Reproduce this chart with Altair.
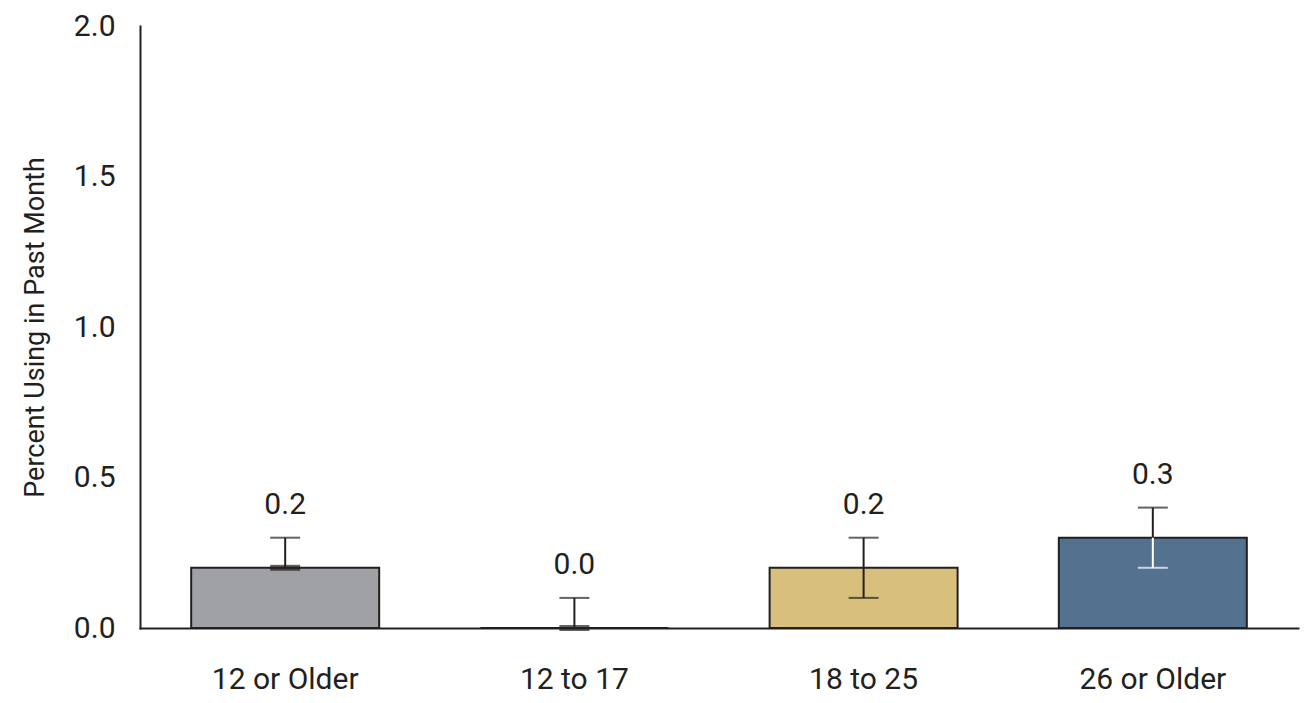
import altair as alt
import pandas as pd

categories = ["12 or Older", "12 to 17", "18 to 25", "26 or Older"]
values = [0.2, 0.0, 0.2, 0.3]
lower = [0.2, 0.0, 0.1, 0.2]
upper = [0.3, 0.1, 0.3, 0.4]
labels = ["0.2", "0.0", "0.2", "0.3"]
bar_colors = ["#a0a1a5", "#a0a1a5", "#d8bf7b", "#52728f"]
inside_colors = ["#231f20", "#231f20", "#231f20", "#ffffff"]

INK = "#231f20"
FONT = "Roboto"

df = pd.DataFrame({
    "cat": categories,
    "value": values,
    "lower": lower,
    "upper": upper,
    "label": labels,
    "color": bar_colors,
    "inside": inside_colors,
})

xs = alt.X("cat:N", sort=categories)
x = alt.X("cat:N", sort=categories,
          scale=alt.Scale(paddingInner=0.35, paddingOuter=0.177),
          axis=alt.Axis(title=None, labelAngle=0, ticks=False, labelPadding=36,
                        labelFontSize=30, labelFont=FONT, labelColor=INK,
                        domainColor=INK, domainWidth=2, grid=False))

base = alt.Chart(df)

bars = base.mark_bar(stroke=INK, strokeWidth=2).encode(
    x=x,
    y=alt.Y("value:Q", scale=alt.Scale(domain=[0, 2.0], nice=False),
            axis=alt.Axis(title="Percent Using in Past Month", values=[0, 0.5, 1.0, 1.5, 2.0],
                          format=".1f", ticks=False, grid=False, labelPadding=25,
                          labelFontSize=30, labelFont=FONT, labelColor=INK,
                          titleFontSize=27, titleFont=FONT, titleFontWeight="normal",
                          titleColor=INK, titlePadding=24,
                          domainColor=INK, domainWidth=2)),
    fill=alt.Fill("color:N", scale=None),
)

upper_rule = base.mark_rule(color=INK, strokeWidth=2).encode(x=xs, y="value:Q", y2="upper:Q")
upper_cap = base.mark_tick(color=INK, thickness=2, size=30).encode(x=xs, y="upper:Q")
lower_rule = base.mark_rule(strokeWidth=2).encode(
    x=xs, y="lower:Q", y2="value:Q", color=alt.Color("inside:N", scale=None))
lower_cap = base.mark_tick(size=30, thickness=2).encode(
    x=xs, y="lower:Q", color=alt.Color("inside:N", scale=None))

thick_df = df[df["lower"] == df["value"]]
thick_cap = alt.Chart(thick_df).mark_tick(size=30, thickness=6, color=INK).encode(x=xs, y="lower:Q")

text = base.mark_text(fontSize=30, font=FONT, color=INK, baseline="alphabetic", dy=-24).encode(
    x=xs, y="upper:Q", text="label:N")

chart = alt.layer(bars, upper_rule, upper_cap, lower_rule, lower_cap, thick_cap, text).properties(
    width=1158, height=602,
    autosize=alt.AutoSizeParams(type="none"),
    padding={"left": 132, "top": 18, "right": 5, "bottom": 75},
).configure_view(stroke=None).configure_axis(domainCap="square")

chart.save("out.html", embed_options={"renderer": "svg", "actions": False})
